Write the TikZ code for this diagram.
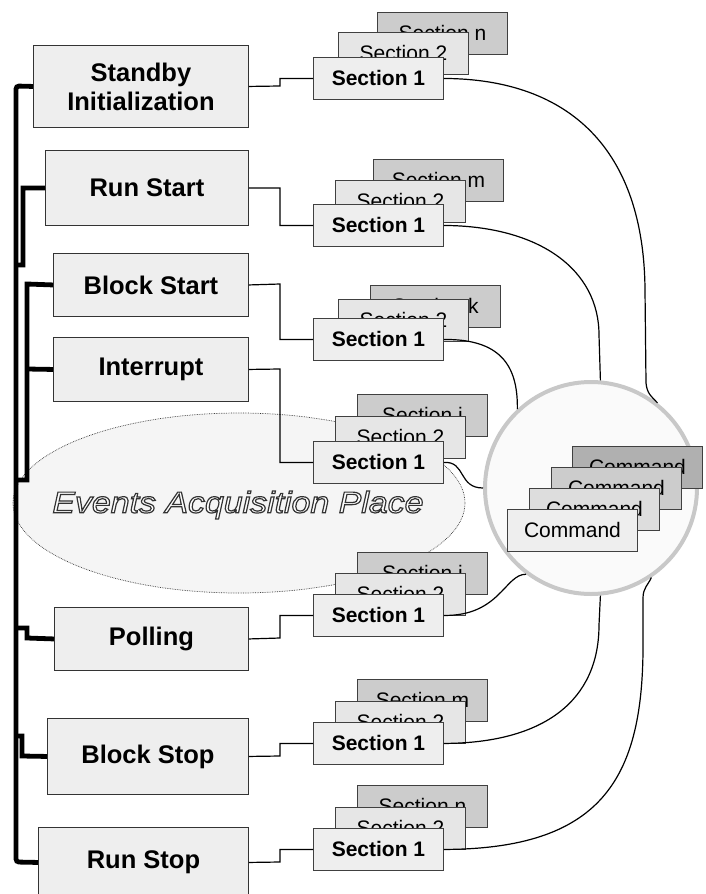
\documentclass[tikz,border=0pt]{standalone}
\usepackage{fontspec}
\setmainfont{Liberation Sans}
\newfontfamily\eapfont[FakeStretch=1.13]{Liberation Sans}
\usetikzlibrary{shapes.geometric}
\definecolor{boxfill}{HTML}{EEEEEE}
\definecolor{secmid}{HTML}{E6E6E6}
\definecolor{secback}{HTML}{CCCCCC}
\definecolor{cmdA}{HTML}{EEEEEE}
\definecolor{cmdB}{HTML}{DDDDDD}
\definecolor{cmdC}{HTML}{CCCCCC}
\definecolor{cmdD}{HTML}{B0B0B0}
\definecolor{hubline}{HTML}{C8C8C8}
\definecolor{hubfill}{HTML}{FAFAFA}
\definecolor{eapfill}{HTML}{F5F5F5}
\newcommand\outlinetext[1]{%
  \special{pdf:code 2 Tr 1.2 w 1 g 0.2 G}#1\special{pdf:code 0 Tr 0 g 0 G}}
\newcommand\secstack[7]{%
  \node[backsec] (#1c) at (#5,#6) {Section #7};
  \node[midsec] (#1b) at (#3,#4) {Section 2};
  \node[frontsec] (#1a) at (313,#2) {Section 1};
}
\begin{document}
\begin{tikzpicture}[x=1pt,y=-1pt,
  leftbox/.style={draw=black!80, fill=boxfill, line width=0.9pt, inner sep=0pt, anchor=north west,
    font=\fontsize{25.5}{29}\selectfont\bfseries, align=center},
  secbox/.style={draw=black!75, line width=0.9pt, minimum width=130pt, minimum height=42pt,
    inner sep=0pt, anchor=north west, font=\fontsize{21}{24}\selectfont},
  frontsec/.style={secbox, fill=boxfill, font=\fontsize{21}{24}\selectfont\bfseries},
  midsec/.style={secbox, fill=secmid},
  backsec/.style={secbox, fill=secback},
  bus/.style={line width=4.8pt, black},
  stepline/.style={line width=1.2pt, black},
  link/.style={line width=1.2pt, black},
]
\useasboundingbox (0,0) rectangle (705,894);

% Events acquisition place
\node[ellipse, draw=black!80, densely dotted, line width=0.7pt, fill=eapfill, inner sep=0pt,
  minimum width=452pt, minimum height=180pt] (eap) at (239,503) {};
\node[font=\eapfont\fontsize{30}{34}\selectfont\itshape, inner sep=0pt] (eaptext) at (238,505)
  {\outlinetext{Events Acquisition Place}};

% left boxes
\node[leftbox, minimum width=215pt, minimum height=82pt] (standby) at (33,45) {Standby\\Initialization};
\node[leftbox, minimum width=203pt, minimum height=75pt] (runstart) at (45,150) {Run Start};
\node[leftbox, minimum width=195pt, minimum height=63pt] (blockstart) at (53,253) {Block Start};
\node[leftbox, minimum width=195pt, minimum height=64pt] (interrupt) at (53,337) {Interrupt};
\node[leftbox, minimum width=194pt, minimum height=63pt] (polling) at (54,607) {Polling};
\node[leftbox, minimum width=201pt, minimum height=76pt] (blockstop) at (47,718) {Block Stop};
\node[leftbox, minimum width=210pt, minimum height=70pt] (runstop) at (38,827) {Run Stop};

% bus
\draw[bus, rounded corners=3pt] (standby.west) -- (16,86) -- (16,862) -- (runstop.west);
\draw[bus] (runstart.west) -- (23,188) -- (23,265) -- (16,265);
\draw[bus] (blockstart.west) -- (27,284) -- (27,480) -- (16,480);
\draw[bus] (interrupt.west) -- (27,369);
\draw[bus] (polling.west) -- (27,638) -- (27,628) -- (16,628);
\draw[bus] (blockstop.west) -- (22,756) -- (22,736) -- (16,736);

% section stacks
\secstack{sa}{57}{338}{32}{377}{12}{n}
\secstack{sb}{204}{335}{180}{373}{159}{m}
\secstack{sc}{318}{338}{299}{370}{285}{k}
\secstack{sd}{441}{335}{416}{357}{394}{i}
\secstack{se}{594}{335}{573}{357}{552}{i}
\secstack{sf}{722}{335}{701}{357}{679}{m}
\secstack{sg}{828}{335}{807}{357}{785}{n}

% step connectors
\draw[stepline] (standby.east) -- (280,86) |- (saa.west);
\draw[stepline] (runstart.east) -- (280,188) |- (sba.west);
\draw[stepline] (blockstart.east) -- (280,284) |- (sca.west);
\draw[stepline] (interrupt.east) -- (280,369) |- (sda.west);
\draw[stepline] (polling.east) -- (280,638) |- (sea.west);
\draw[stepline] (blockstop.east) -- (280,756) |- (sfa.west);
\draw[stepline] (runstop.east) -- (280,862) |- (sga.west);

% hub
\node[circle, draw=hubline, fill=hubfill, line width=4pt, minimum size=212pt, inner sep=0pt] (hub) at (591,488) {};

% links to hub
\draw[link] (saa.east) .. controls (570,79) and (644,150) .. (645,290) -- (646,383)
  .. controls (647,394) and (652,397) .. (hub.52);
\draw[link] (sba.east) .. controls (540,226) and (599,270) .. (599,335) -- (hub.85);
\draw[link] (sca.east) .. controls (500,339) and (518,365) .. (hub.133);
\draw[link] (sda.east) .. controls (466,461) and (458,488) .. (hub.180);
\draw[link] (sea.east) .. controls (500,616) and (505,574) .. (hub.233);
\draw[link] (sfa.east) .. controls (545,743) and (599,700) .. (599,625) -- (hub.275);
\draw[link] (sga.east) .. controls (600,849) and (642,780) .. (643,650) -- (643,598)
  .. controls (643,588) and (648,585) .. (hub.304);

% commands
\node[secbox, fill=cmdD] (cmd4) at (572,446) {Command};
\node[secbox, fill=cmdC] (cmd3) at (551,467) {Command};
\node[secbox, fill=cmdB] (cmd2) at (529,488) {Command};
\node[secbox, fill=cmdA] (cmd1) at (507,509) {Command};
\end{tikzpicture}
\end{document}
